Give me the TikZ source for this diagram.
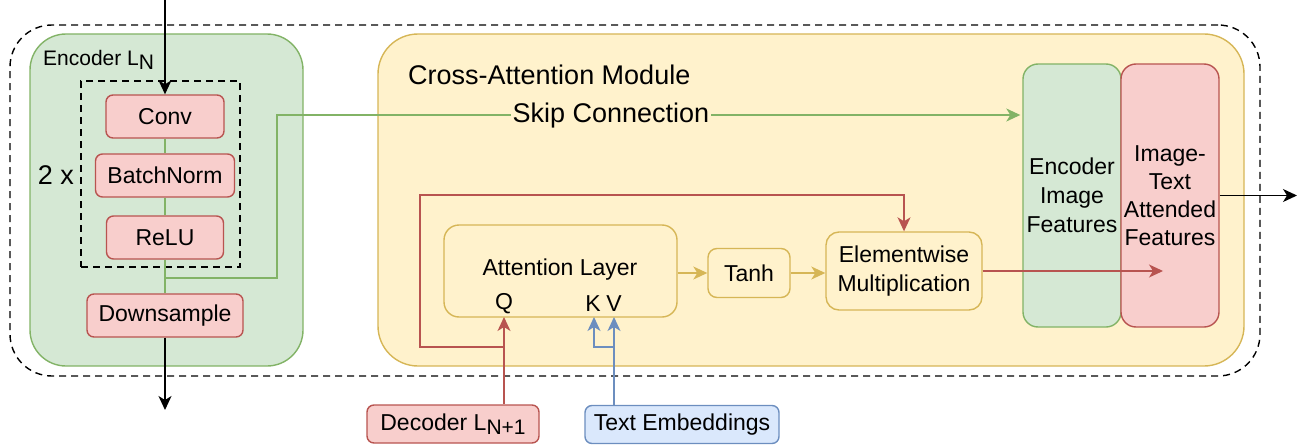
\documentclass[tikz,border=0pt]{standalone}
\usepackage{fontspec}
\setmainfont{Liberation Sans}
\usetikzlibrary{arrows.meta,calc}

\definecolor{grnF}{HTML}{D5E8D4}
\definecolor{grnS}{HTML}{82B366}
\definecolor{redF}{HTML}{F8CECC}
\definecolor{redS}{HTML}{B85450}
\definecolor{ylwF}{HTML}{FFF2CC}
\definecolor{ylwS}{HTML}{D6B656}
\definecolor{bluF}{HTML}{DAE8FC}
\definecolor{bluS}{HTML}{6C8EBF}

\newcommand{\txtn}{\fontsize{23}{29}\selectfont}
\newcommand{\txtb}{\fontsize{27}{32}\selectfont}
\newcommand{\txts}{\fontsize{21}{25}\selectfont}
\newcommand{\lowsub}[1]{\raisebox{-0.35ex}{#1}}

\tikzset{
  box/.style={draw, line width=1.4pt, inner sep=0pt, align=center, font=\txtn},
  redbox/.style={box, draw=redS, fill=redF, rounded corners=7pt},
  ylwbox/.style={box, draw=ylwS, fill=ylwF},
  blubox/.style={box, draw=bluS, fill=bluF, rounded corners=7pt},
  grnbox/.style={box, draw=grnS, fill=grnF},
  dashbox/.style={draw=black, line width=1.4pt, dash pattern=on 7pt off 5pt, inner sep=0pt},
  tip/.style={-{Stealth[length=14pt,width=13pt,inset=4pt]}},
  wire/.style={line width=1.4pt},
  lbl/.style={inner sep=0pt, font=\txtn},
}

\begin{document}
\begin{tikzpicture}[x=1pt,y=-1pt]
\useasboundingbox (0,0) rectangle (1297,444);

% outer dashed frame
\node[dashbox, rounded corners=42pt, minimum width=1250pt, minimum height=351pt] (frame) at (635,200.5) {};

% encoder block
\node[grnbox, rounded corners=36pt, minimum width=273pt, minimum height=332pt] (enc) at (166.5,200) {};
\node[lbl, font=\txts, anchor=west] (enclbl) at (43,60) {Encoder L\lowsub{N}};
\node[dashbox, minimum width=159pt, minimum height=186pt] (rep) at (160.5,174) {};
\node[lbl, font=\txtb] (times) at (56,175) {2 x};
\node[redbox, minimum width=118pt, minimum height=43pt] (conv) at (165,116.5) {Conv};
\node[redbox, minimum width=139pt, minimum height=43pt] (bn) at (165,175.5) {BatchNorm};
\node[redbox, minimum width=117pt, minimum height=43pt] (relu) at (165,237.5) {ReLU};
\node[redbox, minimum width=156pt, minimum height=43pt] (down) at (165,315.5) {Downsample};

% cross-attention module
\node[ylwbox, rounded corners=40pt, minimum width=866pt, minimum height=332pt] (mod) at (811,200) {};
\node[lbl, font=\txtb, anchor=west] (modlbl) at (408,75) {Cross-Attention Module};

\node[grnbox, rounded corners=15pt, minimum width=98pt, minimum height=263pt] (eif) at (1072,195.5)
  {Encoder\\Image\\Features};
\node[redbox, rounded corners=15pt, minimum width=98pt, minimum height=263pt, font=\fontsize{23}{28}\selectfont] (itaf) at (1170,195.5)
  {Image-\\Text\\Attended\\Features};

\node[ylwbox, rounded corners=15pt, minimum width=233pt, minimum height=92pt] (att) at (560.5,271) {};
\node[lbl] (attlbl) at (560,270) {Attention Layer};
\node[lbl] (qlbl) at (504,304) {Q};
\node[lbl] (klbl) at (593,304) {K};
\node[lbl] (vlbl) at (614,304) {V};
\node[ylwbox, rounded corners=9pt, minimum width=82pt, minimum height=49pt] (tanh) at (749,273) {Tanh};
\node[ylwbox, rounded corners=13pt, minimum width=156pt, minimum height=78pt] (ewm) at (904,271)
  {Elementwise\\Multiplication};

% inputs
\node[redbox, minimum width=172pt, minimum height=38pt] (dec) at (453,424) {Decoder L\lowsub{\fontsize{21}{25}\selectfont N+1}};
\node[blubox, minimum width=194pt, minimum height=38pt] (temb) at (682,424.5) {Text Embeddings};

% encoder flow
\coordinate (inTop) at (165,0);
\coordinate (outBot) at (165,410);
\draw[wire, tip] (inTop) -- (conv.north);
\draw[wire, grnS] (conv.south) -- (bn.north);
\draw[wire, grnS] (bn.south) -- (relu.north);
\draw[wire, grnS] (relu.south) -- (down.north);
\draw[wire, tip] (down.south) -- (outBot);

% skip connection
\coordinate (skipA) at (165,278);
\draw[wire, grnS, tip, shorten >=2pt] (skipA) -- (277,278) -- (277,115) -- (eif.west |- 0,115)
  node[pos=0.448, yshift=-1pt, fill=ylwF, inner sep=2pt, text=black, font=\txtb] (skiplbl) {Skip Connection};

% attention chain
\draw[wire, ylwS, tip] (att.east |- tanh.west) -- (tanh.west);
\draw[wire, ylwS, tip] (tanh.east) -- (ewm.west |- tanh.east);
\coordinate (fuseEnd) at (1163,271);
\draw[wire, redS, tip] (ewm.east) -- (fuseEnd);
\draw[wire, tip] (itaf.east) -- (1297,195.5);

% query path and gate path from decoder
\coordinate (qIn) at (504,317);
\coordinate (qBr) at (504,347);
\draw[wire, redS, tip] (dec.north -| qIn) -- (qIn);
\draw[wire, redS, tip] (qBr) -- (420,347) -- (420,195) -- (ewm.north |- 0,195) -- (ewm.north);

% key / value path from text embeddings
\coordinate (vIn) at (614,317);
\coordinate (kIn) at (594,317);
\draw[wire, bluS, tip] (temb.north -| vIn) -- (vIn);
\draw[wire, bluS, tip] (614,347) -- (594,347) -- (kIn);
\end{tikzpicture}
\end{document}
